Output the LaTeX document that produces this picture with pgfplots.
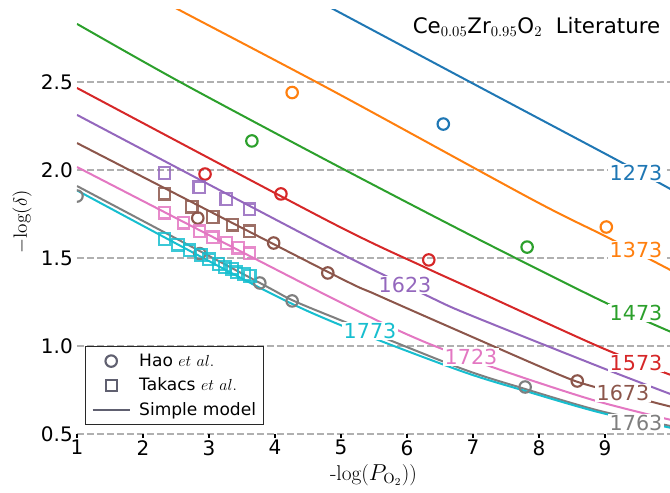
\documentclass[border=0pt]{standalone}
\usepackage[no-math]{fontspec}
\setmainfont{DejaVu Sans}
\usepackage{pgfplots}
\pgfplotsset{compat=1.18}

% matplotlib tab10
\definecolor{c0}{HTML}{1F77B4}
\definecolor{c1}{HTML}{FF7F0E}
\definecolor{c2}{HTML}{2CA02C}
\definecolor{c3}{HTML}{D62728}
\definecolor{c4}{HTML}{9467BD}
\definecolor{c5}{HTML}{8C564B}
\definecolor{c6}{HTML}{E377C2}
\definecolor{c7}{HTML}{7F7F7F}
\definecolor{c9}{HTML}{17BECF}
\definecolor{legendgrey}{RGB}{96,96,112}
\definecolor{gridgrey}{HTML}{B0B0B0}

\pgfplotsset{
  model/.style={#1, line width=1.5pt, smooth, tension=0.5, forget plot},
  hao/.style={#1, only marks, mark=o, mark size=4.3pt,
    mark options={line width=1.6pt}, forget plot},
  takacs/.style={#1, only marks, mark=square, mark size=4.2pt,
    mark options={line width=1.6pt, opacity=0.85}, forget plot},
  markleg/.style={legend image code/.code={%
    \draw[mark repeat=2,mark phase=2,##1] plot coordinates {(0pt,0pt) (14pt,0pt) (28pt,0pt)};}},
  lineleg/.style={legend image code/.code={\draw[##1] (0pt,0pt) -- (28pt,0pt);}},
}
\tikzset{tlabel/.style={#1, fill=white, inner sep=1pt, font=\fontsize{15.5}{18}\selectfont}}

\begin{document}
\begin{tikzpicture}
\begin{axis}[
  name=ax,
  scale only axis, width=444.75pt, height=318pt,
  xmin=1, xmax=9.985, ymin=0.5, ymax=2.909,
  xtick={1,2,...,9}, ytick={0.5,1,1.5,2,2.5},
  yticklabel style={/pgf/number format/.cd, fixed, fixed zerofill, precision=1},
  /pgf/number format/assume math mode=true,
  ticklabel style={font=\fontsize{15}{18}\selectfont, inner sep=0pt},
  xticklabel style={yshift=-1.5pt},
  axis line style={draw=none},
  tick align=outside, major tick length=3pt,
  xtick pos=bottom, ytick pos=left,
  xtick style={black, line width=0.8pt},
  ytick style={draw=none},
  ymajorgrids,
  grid style={gridgrey, line width=0.8pt, dash pattern=on 5.25pt off 2.25pt},
  clip marker paths=true,
  xlabel={-log($P_{\mathrm{O}_2}$))},
  xlabel style={at={(axis description cs:0.5,-0.1085)}, anchor=base,
    font=\fontfamily{lmr}\fontsize{16}{19}\selectfont},
  ylabel={$-\mathrm{log}(\delta)$},
  ylabel style={at={(axis description cs:-0.0927,0.5)}, anchor=center, font=\fontsize{15.5}{18}\selectfont},
  legend style={at={(0.0135,0.2075)}, anchor=north west, draw={rgb,255:red,40;green,40;blue,40},
    line width=0.8pt, fill=white, font=\fontsize{12.8}{15}\selectfont,
    inner xsep=4.5pt, inner ysep=4.5pt, row sep=5.2pt, column sep=5.25pt,
    nodes={inner sep=1pt}},
  legend cell align=left,
]

% legend entries
\addlegendimage{legendgrey, only marks, mark=o, mark size=4.3pt, mark options={line width=1.6pt}, markleg}
\addlegendentry{Hao $et\ al.$}
\addlegendimage{legendgrey, only marks, mark=square, mark size=4.2pt, mark options={line width=1.6pt}, markleg}
\addlegendentry{Takacs $et\ al.$}
\addlegendimage{legendgrey, line width=1.5pt, lineleg}
\addlegendentry{Simple model}

% simple model curves
\addplot[model=c0] coordinates {(4.4,3.01) (4.909,2.909) (6.955,2.5) (9.18,2.057) (10,1.89)};
\addplot[model=c1] coordinates {(2.4,2.94) (2.606,2.898) (4.909,2.443) (7.909,1.830) (9.03,1.619) (10,1.43)};
\addplot[model=c2] coordinates {(1,2.830) (2.561,2.5) (4.833,2.045) (6.955,1.631) (8.924,1.261) (10,1.08)};
\addplot[model=c3] coordinates {(1,2.466) (4.833,1.705) (6.242,1.452) (6.955,1.330) (8.924,0.994) (10,0.835)};
\addplot[model=c4] coordinates {(1,2.313) (4.833,1.557) (6.348,1.278) (6.955,1.176) (8.924,0.881) (10,0.726)};
\addplot[model=c5] coordinates {(1,2.153) (4.833,1.415) (5.545,1.29) (6.955,1.057) (8.318,0.835) (8.818,0.77) (10,0.655)};
\addplot[model=c6] coordinates {(1,2.017) (4.833,1.278) (6.197,1.034) (7.379,0.869) (8.818,0.693) (10,0.58)};
\addplot[model=c7] coordinates {(1,1.909) (3.773,1.358) (4.258,1.261) (4.985,1.148) (6.803,0.875) (7.788,0.756) (8.924,0.631) (10,0.545)};
\addplot[model=c9] coordinates {(1,1.884) (3.773,1.33) (4.985,1.12) (6.803,0.86) (7.788,0.745) (8.924,0.622) (10,0.535)};

% Hao et al.
\addplot[hao=c0] coordinates {(6.55,2.261)};
\addplot[hao=c1] coordinates {(4.26,2.44) (9.02,1.676)};
\addplot[hao=c2] coordinates {(3.65,2.165) (7.82,1.562)};
\addplot[hao=c3] coordinates {(2.94,1.977) (4.09,1.864) (6.33,1.489)};
\addplot[hao=c5] coordinates {(2.83,1.727) (3.98,1.585) (4.80,1.415) (8.58,0.801)};
\addplot[hao=c7] coordinates {(1.0,1.852) (2.86,1.525) (3.77,1.358) (4.26,1.256) (7.79,0.767)};

% Takacs et al.
\addplot[takacs=c4] coordinates {(2.33,1.983) (2.85,1.903) (3.26,1.835) (3.61,1.778)};
\addplot[takacs=c5] coordinates {(2.33,1.864) (2.74,1.79) (3.06,1.733) (3.36,1.688) (3.61,1.653)};
\addplot[takacs=c6] coordinates {(2.33,1.756) (2.61,1.699) (2.86,1.653) (3.06,1.619) (3.27,1.585) (3.44,1.557) (3.61,1.528)};
\addplot[takacs=c9] coordinates {(2.33,1.608) (2.53,1.574) (2.70,1.545) (2.88,1.517) (3.00,1.494) (3.14,1.466) (3.24,1.449) (3.35,1.438) (3.42,1.42) (3.53,1.409) (3.62,1.398)};

% temperature labels
\node[tlabel=c0] at (axis cs:9.47,1.983) {1273};
\node[tlabel=c1] at (axis cs:9.47,1.545) {1373};
\node[tlabel=c2] at (axis cs:9.47,1.1875) {1473};
\node[tlabel=c3] at (axis cs:9.47,0.903) {1573};
\node[tlabel=c4] at (axis cs:5.97,1.347) {1623};
\node[tlabel=c5] at (axis cs:9.273,0.733) {1673};
\node[tlabel=c6] at (axis cs:6.97,0.9375) {1723};
\node[tlabel=c7] at (axis cs:9.47,0.5625) {1763};
\node[tlabel=c9] at (axis cs:5.44,1.085) {1773};

\node[anchor=base east, font=\fontsize{16}{19}\selectfont] at (axis cs:9.909,2.778)
  {Ce$_{0.05}$Zr$_{0.95}$O$_2$~~Literature};
\end{axis}
\pgfresetboundingbox
\path[use as bounding box] ([shift={(-57.75pt,-44.25pt)}]ax.south west) rectangle ([shift={(0pt,7.5pt)}]ax.north east);
\end{tikzpicture}
\end{document}
